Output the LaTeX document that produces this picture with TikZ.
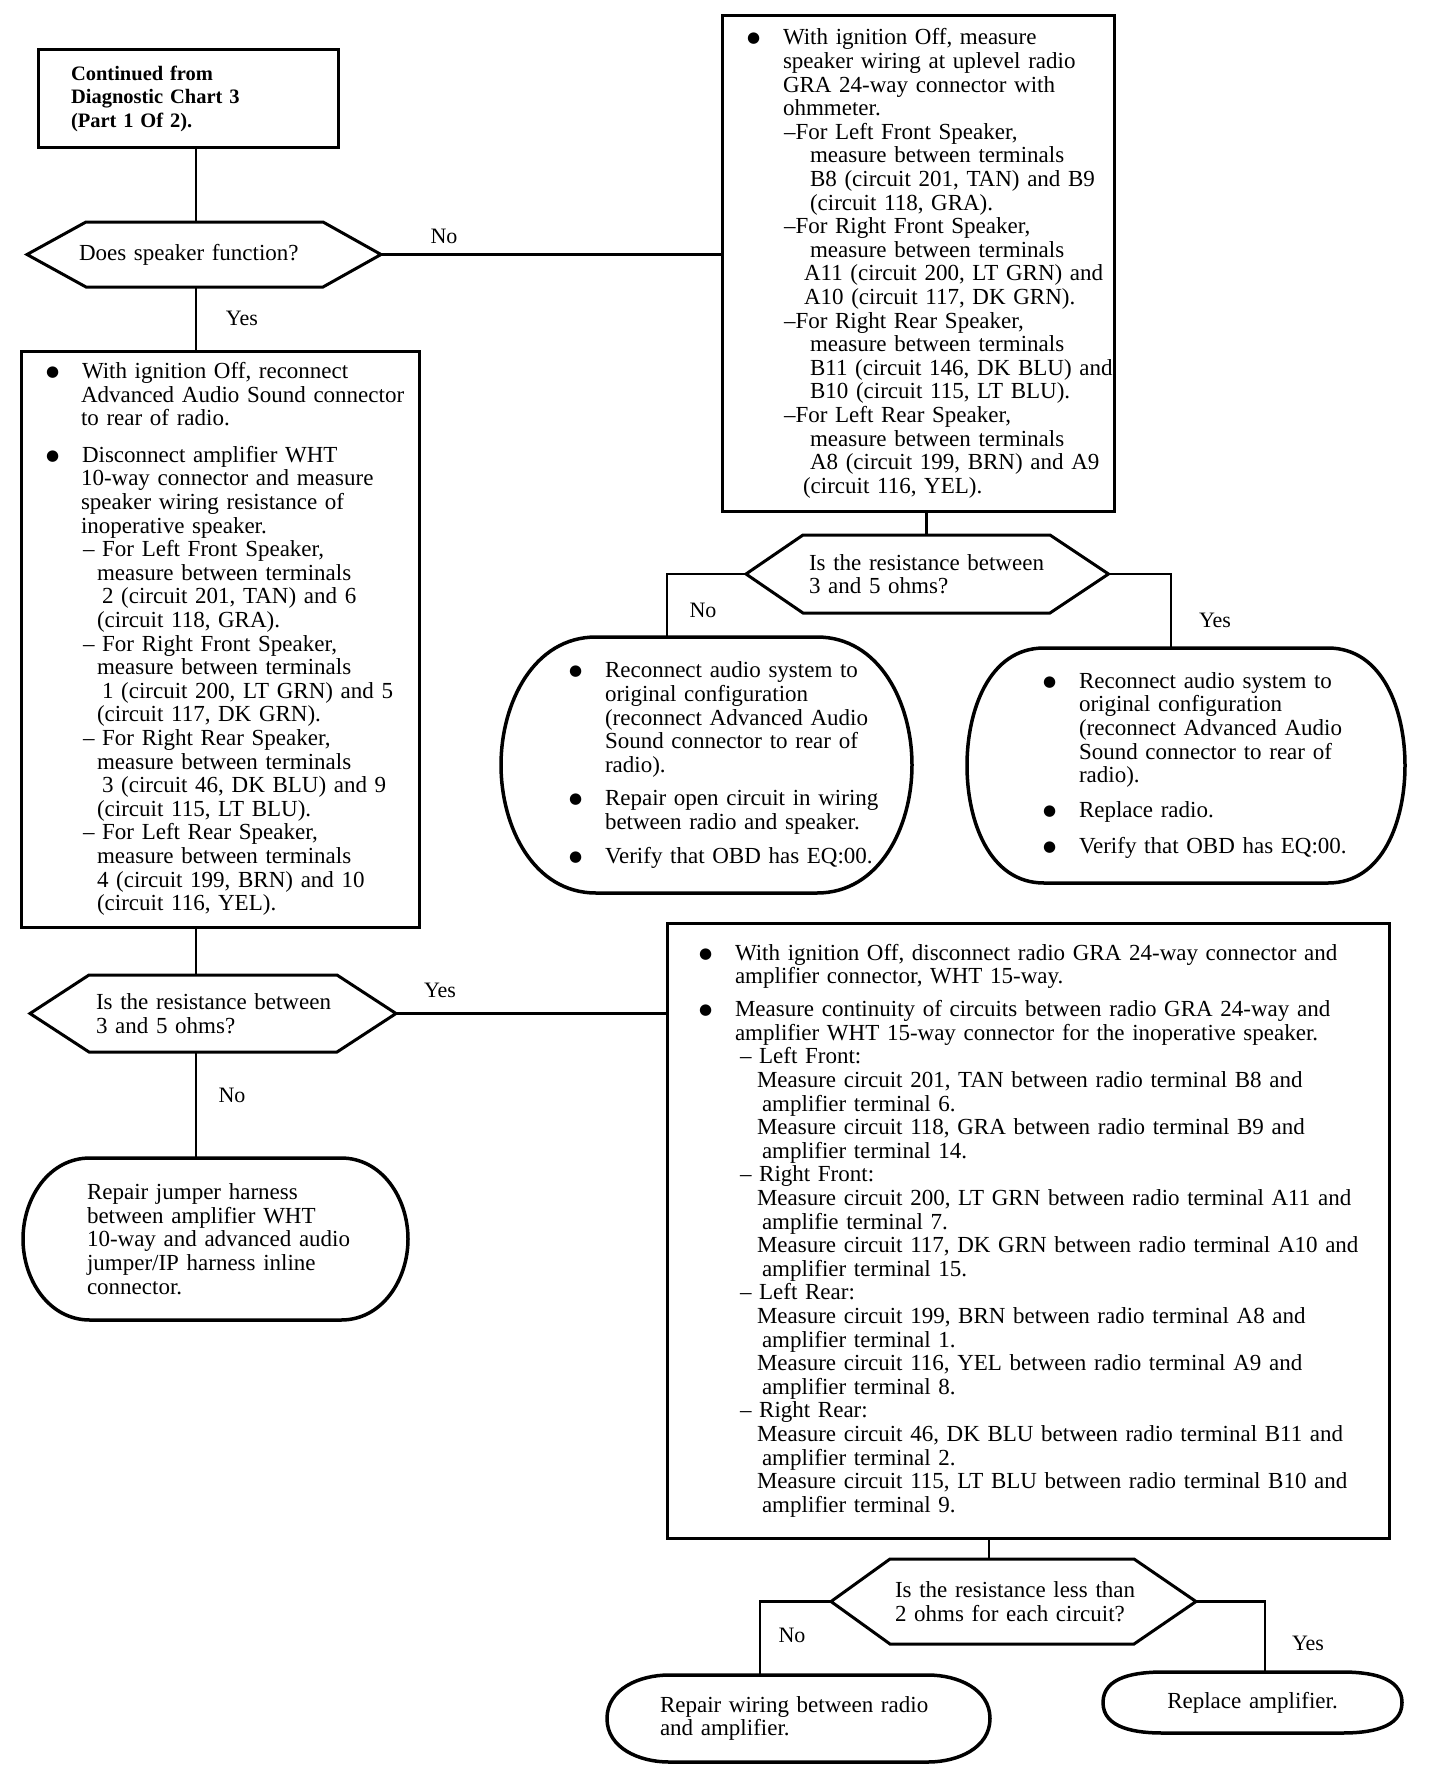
\documentclass[tikz,border=0pt]{standalone}
\usepackage{fontspec}
\setmainfont{Liberation Serif}
\newfontfamily\dotfont{DejaVu Sans}
\usetikzlibrary{calc,positioning}

\newcommand\Bl[1]{\mbox{\makebox[36pt][l]{\raisebox{2pt}{\dotfont\fontsize{15}{15}\selectfont ●}}#1}}
\newcommand\Ln[2]{\mbox{\hspace*{#1pt}#2}}
\newcommand\hexa[3]{%
  \draw[line width=3pt,line join=miter] (#1.north west) -- (#1.north east)
    -- ([xshift=#3pt]#1.east) coordinate (#1-e) -- (#1.south east) -- (#1.south west)
    -- ([xshift=-#2pt]#1.west) coordinate (#1-w) -- cycle;}
\newcommand\capsule[2]{%
  \draw[line width=3.5pt,line join=round] ([xshift=#2pt]#1.north west) -- ([xshift=-#2pt]#1.north east)
    to[out=0,in=90] (#1.east) to[out=-90,in=0] ([xshift=-#2pt]#1.south east)
    -- ([xshift=#2pt]#1.south west) to[out=180,in=-90] (#1.west)
    to[out=90,in=180] ([xshift=#2pt]#1.north west) -- cycle;}

\begin{document}
\begin{tikzpicture}[x=1pt,y=-1pt]
			\fill[white] (0,0) rectangle (1440,1774);
			\useasboundingbox (0,0) rectangle (1440,1774);

			\begin{scope}[every node/.style={rectangle,draw,line width=3pt,anchor=north west,outer sep=0pt,
				align=left,font=\fontsize{23}{23.6}\selectfont}]
				\node[font=\bfseries\fontsize{20.5}{23.5}\selectfont,minimum width=300pt,minimum height=97pt,
					inner xsep=33pt,text width=234pt] (start) at (38,50)
					{Continued from\\Diagnostic Chart 3\\(Part 1 Of 2).};
				\node[minimum width=392pt,minimum height=495pt,inner xsep=25pt,text width=342pt] (R1) at (722,16) {%
					\Bl{With ignition Off, measure}\\
					\Ln{36}{speaker wiring at uplevel radio}\\
					\Ln{36}{GRA 24-way connector with}\\
					\Ln{36}{ohmmeter.}\\
					\Ln{37}{\textendash For Left Front Speaker,}\\
					\Ln{63}{measure between terminals}\\
					\Ln{63}{B8 (circuit 201, TAN) and B9}\\
					\Ln{63}{(circuit 118, GRA).}\\
					\Ln{37}{\textendash For Right Front Speaker,}\\
					\Ln{63}{measure between terminals}\\
					\Ln{57}{A11 (circuit 200, LT GRN) and}\\
					\Ln{57}{A10 (circuit 117, DK GRN).}\\
					\Ln{37}{\textendash For Right Rear Speaker,}\\
					\Ln{63}{measure between terminals}\\
					\Ln{63}{B11 (circuit 146, DK BLU) and}\\
					\Ln{63}{B10 (circuit 115, LT BLU).}\\
					\Ln{37}{\textendash For Left Rear Speaker,}\\
					\Ln{63}{measure between terminals}\\
					\Ln{63}{A8 (circuit 199, BRN) and A9}\\
					\Ln{56}{(circuit 116, YEL).}};
				\node[minimum width=398pt,minimum height=576pt,inner xsep=25pt,text width=348pt] (recon) at (21,351) {%
					\Bl{With ignition Off, reconnect}\\
					\Ln{35}{Advanced Audio Sound connector}\\
					\Ln{35}{to rear of radio.}\\[13pt]
					\Bl{Disconnect amplifier WHT}\\
					\Ln{35}{10-way connector and measure}\\
					\Ln{35}{speaker wiring resistance of}\\
					\Ln{35}{inoperative speaker.}\\
					\Ln{37}{\textendash\ For Left Front Speaker,}\\
					\Ln{51}{measure between terminals}\\
					\Ln{56}{2 (circuit 201, TAN) and 6}\\
					\Ln{51}{(circuit 118, GRA).}\\
					\Ln{37}{\textendash\ For Right Front Speaker,}\\
					\Ln{51}{measure between terminals}\\
					\Ln{56}{1 (circuit 200, LT GRN) and 5}\\
					\Ln{51}{(circuit 117, DK GRN).}\\
					\Ln{37}{\textendash\ For Right Rear Speaker,}\\
					\Ln{51}{measure between terminals}\\
					\Ln{56}{3 (circuit 46, DK BLU) and 9}\\
					\Ln{51}{(circuit 115, LT BLU).}\\
					\Ln{37}{\textendash\ For Left Rear Speaker,}\\
					\Ln{51}{measure between terminals}\\
					\Ln{51}{4 (circuit 199, BRN) and 10}\\
					\Ln{51}{(circuit 116, YEL).}};
				\node[minimum width=722pt,minimum height=615pt,inner xsep=32pt,text width=658pt] (contin) at (667,923) {%
					\Bl{With ignition Off, disconnect radio GRA 24-way connector and}\\
					\Ln{36}{amplifier connector, WHT 15-way.}\\[9.5pt]
					\Bl{Measure continuity of circuits between radio GRA 24-way and}\\
					\Ln{36}{amplifier WHT 15-way connector for the inoperative speaker.}\\
					\Ln{41}{\textendash\ Left Front:}\\
					\Ln{58}{Measure circuit 201, TAN between radio terminal B8 and}\\
					\Ln{63}{amplifier terminal 6.}\\
					\Ln{58}{Measure circuit 118, GRA between radio terminal B9 and}\\
					\Ln{63}{amplifier terminal 14.}\\
					\Ln{41}{\textendash\ Right Front:}\\
					\Ln{58}{Measure circuit 200, LT GRN between radio terminal A11 and}\\
					\Ln{63}{amplifie terminal 7.}\\
					\Ln{58}{Measure circuit 117, DK GRN between radio terminal A10 and}\\
					\Ln{63}{amplifier terminal 15.}\\
					\Ln{41}{\textendash\ Left Rear:}\\
					\Ln{58}{Measure circuit 199, BRN between radio terminal A8 and}\\
					\Ln{63}{amplifier terminal 1.}\\
					\Ln{58}{Measure circuit 116, YEL between radio terminal A9 and}\\
					\Ln{63}{amplifier terminal 8.}\\
					\Ln{41}{\textendash\ Right Rear:}\\
					\Ln{58}{Measure circuit 46, DK BLU between radio terminal B11 and}\\
					\Ln{63}{amplifier terminal 2.}\\
					\Ln{58}{Measure circuit 115, LT BLU between radio terminal B10 and}\\
					\Ln{63}{amplifier terminal 9.}};
			\end{scope}

			\begin{scope}[every node/.style={rectangle,anchor=north west,outer sep=0pt,inner sep=0pt,
				align=left,font=\fontsize{23}{23.6}\selectfont}]
				\node[minimum width=237pt,minimum height=65pt,text width=237pt] (d1) at (86,222)
					{\Ln{-7}{Does speaker function?}};
				\node[minimum width=247pt,minimum height=78pt,text width=247pt] (d2) at (803,535)
					{\Ln{6}{Is the resistance between}\\\Ln{6}{3 and 5 ohms?}};
				\node[minimum width=248pt,minimum height=77pt,text width=248pt] (d3) at (89,975)
					{\Ln{7}{Is the resistance between}\\\Ln{7}{3 and 5 ohms?}};
				\node[minimum width=244pt,minimum height=85pt,text width=244pt] (d4) at (890,1559)
					{\Ln{5}{Is the resistance less than}\\\Ln{5}{2 ohms for each circuit?}};
			\end{scope}
			\hexa{d1}{59}{58}
			\hexa{d2}{57}{58.5}
			\hexa{d3}{59}{59}
			\hexa{d4}{59}{62}

			\begin{scope}[every node/.style={rectangle,anchor=north west,outer sep=0pt,
				align=left,font=\fontsize{23}{23.6}\selectfont}]
				\node[minimum width=411pt,minimum height=256pt,inner xsep=68pt,text width=275pt] (openfix) at (501,637) {%
					\Bl{Reconnect audio system to}\\
					\Ln{36}{original configuration}\\
					\Ln{36}{(reconnect Advanced Audio}\\
					\Ln{36}{Sound connector to rear of}\\
					\Ln{36}{radio).}\\[9.5pt]
					\Bl{Repair open circuit in wiring}\\
					\Ln{36}{between radio and speaker.}\\[10.5pt]
					\Bl{Verify that OBD has EQ:00.}};
				\node[minimum width=438pt,minimum height=235pt,inner xsep=76pt,text width=286pt] (radiofix) at (967,648) {%
					\Bl{Reconnect audio system to}\\
					\Ln{36}{original configuration}\\
					\Ln{36}{(reconnect Advanced Audio}\\
					\Ln{36}{Sound connector to rear of}\\
					\Ln{36}{radio).}\\[11.5pt]
					\Bl{Replace radio.}\\[12.5pt]
					\Bl{Verify that OBD has EQ:00.}};
				\node[minimum width=385pt,minimum height=162pt,inner xsep=64pt,text width=257pt] (jumperfix) at (23,1158) {%
					\Ln{0}{Repair jumper harness}\\
					\Ln{0}{between amplifier WHT}\\
					\Ln{0}{10-way and advanced audio}\\
					\Ln{0}{jumper/IP harness inline}\\
					\Ln{0}{connector.}};
				\node[minimum width=383pt,minimum height=87pt,inner xsep=53pt,text width=277pt] (wirefix) at (607,1675)
					{\Ln{0}{Repair wiring between radio}\\\Ln{0}{and amplifier.}};
				\node[minimum width=299pt,minimum height=61pt,inner xsep=10pt,text width=279pt,align=center] (ampfix) at (1103,1672)
					{Replace amplifier.};
			\end{scope}
			\capsule{openfix}{95}
			\capsule{radiofix}{77}
			\capsule{jumperfix}{67}
			\capsule{wirefix}{62}
			\capsule{ampfix}{60}

			\begin{scope}[every node/.style={inner sep=0pt,font=\fontsize{22}{24}\selectfont}]
				\node (no1) at (444,236) {No};
				\node (yes1) at (242,318) {Yes};
				\node (no2) at (703,610) {No};
				\node (yes2) at (1215,620) {Yes};
				\node (yes3) at (440,990) {Yes};
				\node (no3) at (232,1095) {No};
				\node (no4) at (792,1635) {No};
				\node (yes4) at (1308,1643) {Yes};
			\end{scope}

			\coordinate (colA) at (196,0);
			\coordinate (colB) at (667,0);
			\coordinate (colC) at (1171,0);
			\coordinate (colD) at (989,0);
			\coordinate (colE) at (760,0);
			\coordinate (colF) at (1265,0);
			\begin{scope}[line width=2.2pt]
				\draw (start.south -| colA) -- (d1.north -| colA);
				\draw (d1.south -| colA) -- (recon.north -| colA);
				\draw (d1-e) -- (d1-e -| R1.west);
				\draw (R1.south -| d2.north) -- (d2.north);
				\draw (d2-w) -| (colB |- openfix.north);
				\draw (d2-e) -| (colC |- radiofix.north);
				\draw (recon.south -| colA) -- (d3.north -| colA);
				\draw (d3-e) -- (d3-e -| contin.west);
				\draw (d3.south -| colA) -- (jumperfix.north -| colA);
				\draw (contin.south -| colD) -- (d4.north -| colD);
				\draw (d4-w) -| (colE |- wirefix.north);
				\draw (d4-e) -| (colF |- ampfix.north);
			\end{scope}
		\end{tikzpicture}
\end{document}
